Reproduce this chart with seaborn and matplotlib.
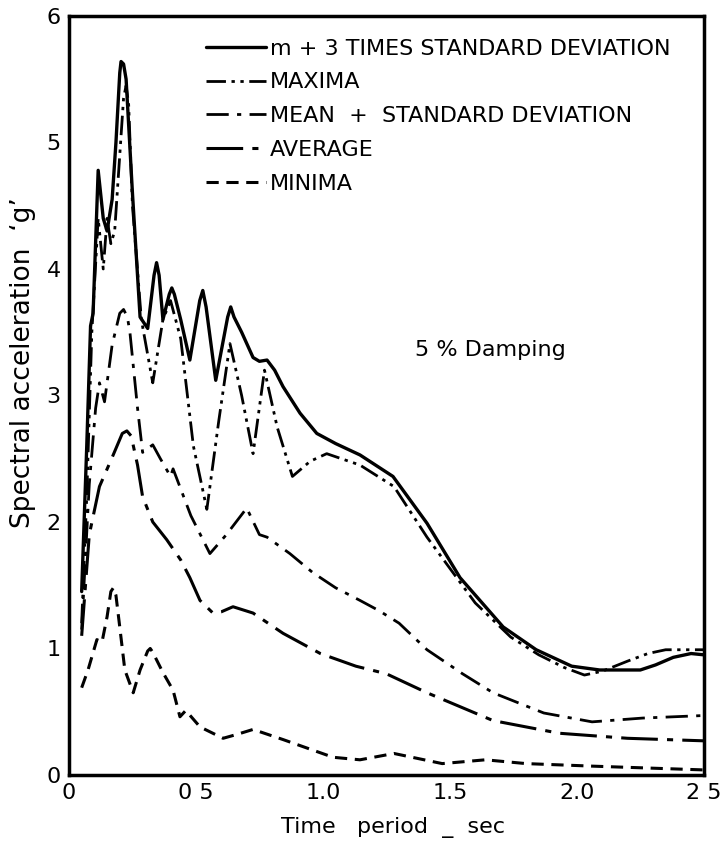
import numpy as np
import pandas as pd
import matplotlib
matplotlib.use("Agg")
import matplotlib.pyplot as plt
import seaborn as sns

# ---- data ----
m3sd_x = [0.05, 0.07, 0.085, 0.095, 0.115, 0.135, 0.15, 0.17, 0.185, 0.2, 0.205, 0.215, 0.225, 0.25,
          0.28, 0.31, 0.335, 0.345, 0.355, 0.37, 0.395, 0.405, 0.415, 0.44, 0.476, 0.515, 0.527,
          0.54, 0.578, 0.625, 0.637, 0.65, 0.68, 0.725, 0.75, 0.78, 0.81, 0.843, 0.91,
          0.976, 1.05, 1.146, 1.276, 1.41, 1.54, 1.71, 1.84, 1.98, 2.09, 2.25, 2.31, 2.38, 2.45, 2.5]
m3sd_y = [1.45, 2.6, 3.55, 3.65, 4.78, 4.4, 4.3, 4.55, 5.0, 5.55, 5.64, 5.62, 5.5, 4.6,
          3.62, 3.53, 3.95, 4.05, 3.95, 3.6, 3.8, 3.85, 3.8, 3.6, 3.28, 3.75, 3.83,
          3.7, 3.12, 3.62, 3.70, 3.62, 3.5, 3.30, 3.27, 3.28, 3.2, 3.07, 2.86,
          2.70, 2.62, 2.53, 2.36, 1.99, 1.56, 1.17, 0.99, 0.86, 0.83, 0.83, 0.87, 0.93, 0.96, 0.95]

max_x = [0.05, 0.07, 0.09, 0.115, 0.135, 0.15, 0.165, 0.18, 0.215, 0.225, 0.235, 0.25, 0.285, 0.33,
         0.37, 0.40, 0.44, 0.49, 0.543, 0.59, 0.634, 0.68, 0.725, 0.77, 0.82, 0.88, 0.95, 1.015,
         1.146, 1.28, 1.41, 1.6, 1.74, 1.85, 1.95, 2.03, 2.1, 2.2, 2.28, 2.35, 2.5]
max_y = [1.2, 2.2, 3.5, 4.4, 4.0, 4.4, 4.2, 4.3, 5.35, 5.45, 5.3, 4.5, 3.6, 3.1,
         3.6, 3.75, 3.45, 2.6, 2.1, 2.8, 3.41, 3.0, 2.54, 3.2, 2.75, 2.36, 2.48, 2.54,
         2.45, 2.28, 1.88, 1.36, 1.09, 0.95, 0.85, 0.79, 0.82, 0.9, 0.96, 0.99, 0.99]

msd_x = [0.05, 0.08, 0.105, 0.12, 0.14, 0.17, 0.2, 0.215, 0.23, 0.24, 0.27, 0.29, 0.33, 0.36, 0.40,
         0.41, 0.48, 0.555, 0.62, 0.70, 0.75, 0.78, 0.87, 0.96, 1.05, 1.146, 1.22, 1.3, 1.41,
         1.55, 1.67, 1.87, 2.06, 2.26, 2.5]
msd_y = [1.15, 2.3, 2.9, 3.1, 2.95, 3.4, 3.65, 3.68, 3.62, 3.5, 2.9, 2.55, 2.61, 2.5, 2.36,
         2.42, 2.05, 1.75, 1.9, 2.11, 1.9, 1.88, 1.75, 1.6, 1.48, 1.38, 1.30, 1.2, 0.99,
         0.8, 0.65, 0.49, 0.42, 0.45, 0.47]

avg_x = [0.05, 0.08, 0.12, 0.17, 0.21, 0.228, 0.245, 0.27, 0.29, 0.33, 0.385, 0.44, 0.476, 0.516,
         0.567, 0.6, 0.646, 0.725, 0.843, 0.99, 1.13, 1.25, 1.41, 1.67, 1.93, 2.2, 2.5]
avg_y = [1.1, 1.9, 2.28, 2.51, 2.7, 2.72, 2.68, 2.45, 2.2, 2.0, 1.86, 1.7, 1.56, 1.38,
         1.28, 1.29, 1.33, 1.28, 1.12, 0.96, 0.86, 0.8, 0.65, 0.43, 0.33, 0.29, 0.27]

min_x = [0.05, 0.075, 0.11, 0.13, 0.15, 0.165, 0.175, 0.185, 0.2, 0.22, 0.253, 0.28, 0.31, 0.32,
         0.33, 0.37, 0.41, 0.437, 0.46, 0.516, 0.607, 0.66, 0.725, 0.843, 1.04, 1.146, 1.28,
         1.47, 1.64, 1.8, 2.06, 2.5]
min_y = [0.69, 0.83, 1.07, 1.05, 1.25, 1.45, 1.48, 1.42, 1.17, 0.83, 0.65, 0.83, 0.98, 1.0,
         0.97, 0.81, 0.67, 0.46, 0.51, 0.38, 0.29, 0.32, 0.36, 0.28, 0.14, 0.12, 0.17,
         0.09, 0.12, 0.09, 0.07, 0.04]

labels = ["m + 3 TIMES STANDARD DEVIATION", "MAXIMA", "MEAN  +  STANDARD DEVIATION",
          "AVERAGE", "MINIMA"]
x_ticks = [0, 0.5, 1.0, 1.5, 2.0, 2.5]
x_tick_labels = ["0", "0 5", "1.0", "1.5", "2.0", "2 5"]
y_ticks = [0, 1, 2, 3, 4, 5, 6]
y_tick_labels = ["0", "1", "2", "3", "4", "5", "6"]

# ---- plot ----
sns.set_style("white")
plt.rcParams["font.family"] = ["DejaVu Sans"]
plt.rcParams["text.color"] = "black"
plt.rcParams["axes.labelcolor"] = "black"

fig = plt.figure(figsize=(7.23, 8.41), dpi=100)
ax = fig.add_axes([0.0954, 0.0785, 0.878, 0.9025])

series = [
    (m3sd_x, m3sd_y, "-", 2.4),
    (max_x, max_y, (0, (7, 2, 1.2, 2, 1.2, 2)), 2.0),
    (msd_x, msd_y, (0, (8, 3, 1.5, 3)), 2.0),
    (avg_x, avg_y, (0, (12, 3, 2, 3)), 2.2),
    (min_x, min_y, (0, (4, 2.5)), 2.2),
]
for (xs, ys, ls, lw), lab in zip(series, labels):
    df = pd.DataFrame({"x": xs, "y": ys})
    sns.lineplot(data=df, x="x", y="y", ax=ax, color="black", linestyle=ls,
                 linewidth=lw, label=lab, sort=False)

ax.set_xlim(0, 2.5)
ax.set_ylim(0, 6)
ax.set_xticks(x_ticks)
ax.set_xticklabels(x_tick_labels)
ax.set_yticks(y_ticks)
ax.set_yticklabels(y_tick_labels)
ax.tick_params(axis="both", direction="in", length=12, width=1.5, labelsize=16,
               color="black", labelcolor="black", pad=6)
for s in ax.spines.values():
    s.set_color("black")
    s.set_linewidth(2.5)

ax.set_xlabel("Time   period  _  sec", fontsize=16, color="black")
ax.xaxis.set_label_coords(0.51, -0.055, transform=ax.transAxes)
ax.set_ylabel("Spectral acceleration  \u2018g\u2019", fontsize=19, color="black")
ax.yaxis.set_label_coords(-0.052, 0.544, transform=ax.transAxes)

ax.text(1.66, 3.36, "5 % Damping", fontsize=16, ha="center", va="center", color="black")

leg = ax.legend(loc="upper left", bbox_to_anchor=(0.2016, 0.982), frameon=False,
                fontsize=16, handlelength=2.7, handletextpad=0.2, labelspacing=0.62,
                borderaxespad=0, labelcolor="black")

fig.savefig("out.png", dpi=100, facecolor="white")
